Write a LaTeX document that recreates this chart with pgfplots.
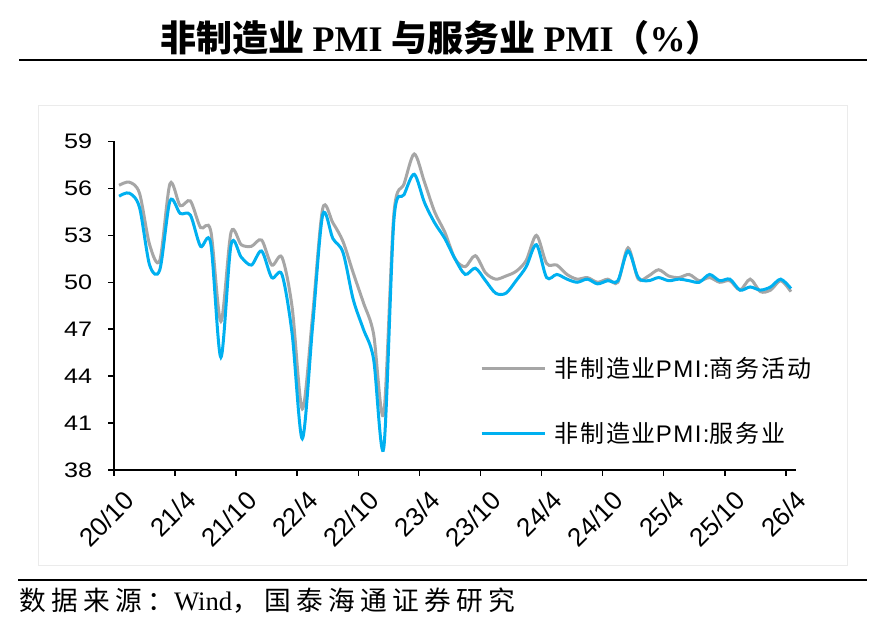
\documentclass[border=0pt]{standalone}
\usepackage{pgfplots}
\pgfplotsset{compat=1.18}
\usepackage{fontspec}
\setmainfont{Liberation Sans}
\newfontfamily\cjk{Noto Sans CJK SC}
\newfontfamily\cjksrc[LetterSpace=20]{Noto Sans CJK SC}
\newfontfamily\cjkleg[LetterSpace=8]{Noto Sans CJK SC}
\newfontfamily\lsans[LetterSpace=6]{Liberation Sans}
\newfontfamily\tms{Liberation Serif}
\definecolor{pmigray}{HTML}{A6A6A6}
\definecolor{pmiblue}{HTML}{00B0F0}
\pgfplotstableread{
x y
0.5 56.2
1.5 56.4
2.5 55.7
3.5 52.4
4.5 51.4
5.5 56.3
6.5 54.9
7.5 55.2
8.5 53.5
9.5 53.3
10.5 47.5
11.5 53.2
12.5 52.4
13.5 52.3
14.5 52.7
15.5 51.1
16.5 51.6
17.5 48.4
18.5 41.9
19.5 47.8
20.5 54.7
21.5 53.8
22.5 52.6
23.5 50.6
24.5 48.7
25.5 46.7
26.5 41.6
27.5 54.4
28.5 56.3
29.5 58.2
30.5 56.4
31.5 54.5
32.5 53.2
33.5 51.5
34.5 51.0
35.5 51.7
36.5 50.6
37.5 50.2
38.5 50.4
39.5 50.7
40.5 51.4
41.5 53.0
42.5 51.2
43.5 51.1
44.5 50.5
45.5 50.2
46.5 50.3
47.5 50.0
48.5 50.2
49.5 50.0
50.5 52.2
51.5 50.2
52.5 50.4
53.5 50.8
54.5 50.4
55.5 50.3
56.5 50.5
57.5 50.1
58.5 50.3
59.5 50.0
60.5 50.1
61.5 49.5
62.5 50.2
63.5 49.4
64.5 49.5
65.5 50.1
66.5 49.4
}\graydata
\pgfplotstableread{
x y
0.5 55.5
1.5 55.7
2.5 54.8
3.5 51.1
4.5 50.8
5.5 55.2
6.5 54.4
7.5 54.3
8.5 52.3
9.5 52.5
10.5 45.2
11.5 52.4
12.5 51.6
13.5 51.1
14.5 52.0
15.5 50.3
16.5 50.5
17.5 46.7
18.5 40.0
19.5 47.1
20.5 54.3
21.5 52.8
22.5 51.9
23.5 48.9
24.5 47.0
25.5 45.1
26.5 39.4
27.5 54.0
28.5 55.6
29.5 56.9
30.5 55.1
31.5 53.8
32.5 52.8
33.5 51.5
34.5 50.5
35.5 50.9
36.5 50.1
37.5 49.3
38.5 49.3
39.5 50.1
40.5 51.0
41.5 52.4
42.5 50.3
43.5 50.5
44.5 50.2
45.5 50.0
46.5 50.2
47.5 49.9
48.5 50.1
49.5 50.1
50.5 52.0
51.5 50.3
52.5 50.1
53.5 50.3
54.5 50.1
55.5 50.2
56.5 50.1
57.5 50.0
58.5 50.5
59.5 50.1
60.5 50.2
61.5 49.5
62.5 49.7
63.5 49.5
64.5 49.7
65.5 50.2
66.5 49.6
}\bluedata
\begin{document}
\begin{tikzpicture}[x=1bp,y=1bp]
\useasboundingbox (0,0) rectangle (883,638);
\fill[white] (0,0) rectangle (883,638);
\draw[black!8, line width=1bp] (38,532) rectangle (847,72);
\node at (441,600) {\fontsize{36bp}{40bp}\selectfont\bfseries\cjk 非制造业 \tms PMI \cjk 与服务业 \tms PMI\cjk （\tms\%\cjk ）};
\draw[line width=1.6bp] (19,578) -- (867,578);
\draw[line width=1.5bp] (18,58) -- (867,58);
\node[anchor=base west, inner sep=0pt] at (19,27) {\fontsize{26.7bp}{30bp}\selectfont\cjksrc 数据来源：\tms Wind\cjksrc ，国泰海通证券研究};
\begin{axis}[
  at={(114bp,168bp)}, anchor=south west,
  scale only axis, width=682bp, height=328.5bp,
  xmin=0, xmax=67, ymin=38, ymax=59,
  axis lines*=left,
  axis line style={line width=1.8bp, black},
  tick style={line width=1.5bp, black},
  tick align=outside, major tick length=6bp,
  xtick={0,6,...,66},
  xticklabels={20/10,21/4,21/10,22/4,22/10,23/4,23/10,24/4,24/10,25/4,25/10,26/4},
  ytick={38,41,...,59},
  /pgf/number format/assume math mode=true,
  xticklabel style={rotate=45, anchor=east, inner sep=0pt, font=\fontsize{26bp}{28bp}\selectfont, xshift=-2.9bp, yshift=-25.2bp},
  yticklabel style={anchor=east, inner sep=0pt, xscale=1.2, font=\fontsize{21bp}{22bp}\selectfont, xshift=-13bp},
  legend cell align=left,
  legend style={at={(0.5367,0.347)}, anchor=north west, draw=none, fill=none, inner sep=0pt, row sep=40bp,
    font=\fontsize{24bp}{26bp}\selectfont\lsans,
    nodes={inner sep=0pt, text height=21bp, text depth=4bp},
    /tikz/column 1/.style={column sep=8bp}},
  legend image code/.code={\draw[#1] (0bp,0bp) -- (63bp,0bp);},
]
\addplot[pmigray, line width=3bp, smooth] table[x=x,y=y] {\graydata};
\addlegendentry{{\cjkleg 非制造业}PMI:{\cjkleg 商务活动}}
\addplot[pmiblue, line width=3bp, smooth] table[x=x,y=y] {\bluedata};
\addlegendentry{{\cjkleg 非制造业}PMI:{\cjkleg 服务业}}
\end{axis}
\end{tikzpicture}
\end{document}
